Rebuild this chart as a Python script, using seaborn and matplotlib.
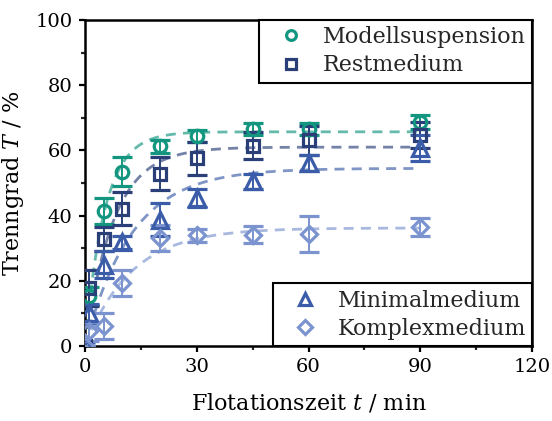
import numpy as np
import pandas as pd
import matplotlib
matplotlib.use("Agg")
import matplotlib.pyplot as plt
from matplotlib.lines import Line2D
from matplotlib.ticker import MultipleLocator
import seaborn as sns

# Flotation time points (min)
t_min = [0, 1, 5, 10, 20, 30, 45, 60, 90]

series_names = ["Modellsuspension", "Restmedium", "Minimalmedium", "Komplexmedium"]

# Separation efficiency T (%) and standard deviations per medium
T_modell = [0, 15.3, 41.5, 53.5, 61.2, 64.5, 66.5, 66.5, 68.7]
err_modell = [0, 2.8, 4.0, 4.5, 2.0, 1.8, 1.8, 1.8, 2.2]

T_rest = [0, 17.8, 32.8, 42.1, 52.9, 57.6, 61.5, 63.1, 64.8]
err_rest = [0, 5.5, 3.6, 5.0, 5.2, 5.0, 4.0, 4.5, 4.0]

T_minimal = [0.6, 10.0, 25.0, 31.8, 38.8, 45.4, 50.5, 56.1, 60.7]
err_minimal = [0.5, 3.0, 4.0, 2.0, 5.0, 2.8, 2.4, 2.5, 4.0]

T_komplex = [0, 4.5, 6.2, 19.4, 33.0, 33.9, 34.2, 34.3, 36.5]
err_komplex = [0, 3.0, 4.0, 4.0, 4.0, 2.0, 2.5, 5.5, 2.8]

# First-order kinetic fit T(t) = T_max * (1 - exp(-k t)) for each medium
fit_Tmax = [65.7, 61.0, 54.5, 36.2]
fit_k = [0.19, 0.13, 0.08, 0.08]

colors = ["#13967f", "#2a3f78", "#3b5ca8", "#7b93cf"]
markers = ["o", "s", "^", "D"]
msizes = [9, 8.5, 11, 8.5]

values = [T_modell, T_rest, T_minimal, T_komplex]
errors = [err_modell, err_rest, err_minimal, err_komplex]

# Build fitted curves as a long-form table for seaborn
t_fit = np.linspace(0, 90, 400)
fit_frames = []
for name, tmax, k in zip(series_names, fit_Tmax, fit_k):
    fit_frames.append(pd.DataFrame({
        "t": t_fit,
        "T": tmax * (1 - np.exp(-k * t_fit)),
        "Medium": name,
    }))
fit_df = pd.concat(fit_frames, ignore_index=True)

sns.set_theme(style="white")
plt.rcParams["font.family"] = ["DejaVu Serif"]
plt.rcParams["mathtext.fontset"] = "custom"
plt.rcParams["mathtext.rm"] = "DejaVu Serif"
plt.rcParams["mathtext.it"] = "DejaVu Serif:italic"

fig = plt.figure(figsize=(5.52, 4.21), dpi=100)
ax = fig.add_axes([85 / 552, 1 - 346 / 421, (532 - 85) / 552, (346 - 20) / 421])

sns.lineplot(data=fit_df, x="t", y="T", hue="Medium", hue_order=series_names,
             palette=dict(zip(series_names, colors)), ax=ax, legend=False,
             linewidth=2.0, alpha=0.65, zorder=1)
for line in ax.get_lines():
    line.set_dashes([3.6, 2.6])

for name, y, e, c, m, ms in zip(series_names, values, errors, colors, markers, msizes):
    ax.errorbar(t_min, y, yerr=e, fmt=m, color=c, mfc="none", mec=c,
                ms=ms, mew=2.3, ecolor=c, elinewidth=1.4, capsize=7,
                capthick=1.4, zorder=3)

ax.set_xlim(0, 120)
ax.set_ylim(0, 100)
ax.xaxis.set_major_locator(MultipleLocator(30))
ax.xaxis.set_minor_locator(MultipleLocator(15))
ax.yaxis.set_major_locator(MultipleLocator(20))
ax.yaxis.set_minor_locator(MultipleLocator(10))
ax.tick_params(axis="both", which="major", direction="out", length=4, width=1.6,
               labelsize=14, colors="black", bottom=True, left=True, pad=5)
ax.tick_params(axis="both", which="minor", direction="out", length=3, width=1.6,
               bottom=True, left=True)
for s in ax.spines.values():
    s.set_linewidth(1.8)
    s.set_color("black")

ax.set_xlabel("Flotationszeit $t$ / min", fontsize=16, color="black", labelpad=11)
ax.set_ylabel("Trenngrad $T$ / %", fontsize=16, color="black", labelpad=7)

def handle(i):
    return Line2D([], [], linestyle="none", marker=markers[i], color=colors[i],
                  mfc="none", mec=colors[i], ms=msizes[i] * 0.78, mew=2.3)

legend_kw = dict(borderaxespad=0, fontsize=16, frameon=True, fancybox=False,
                 edgecolor="black", handletextpad=0.3, borderpad=0.28,
                 labelspacing=0.28, handlelength=2.3)

leg1 = ax.legend([handle(0), handle(1)], series_names[:2], loc="upper right",
                 bbox_to_anchor=(1.0, 1.0), **legend_kw)
leg1.get_frame().set_linewidth(1.5)
leg1.get_frame().set_alpha(1)
ax.add_artist(leg1)

leg2 = ax.legend([handle(2), handle(3)], series_names[2:], loc="lower right",
                 bbox_to_anchor=(1.0, 0.0), **legend_kw)
leg2.get_frame().set_linewidth(1.5)
leg2.get_frame().set_alpha(1)

fig.savefig("out.png", dpi=100)
